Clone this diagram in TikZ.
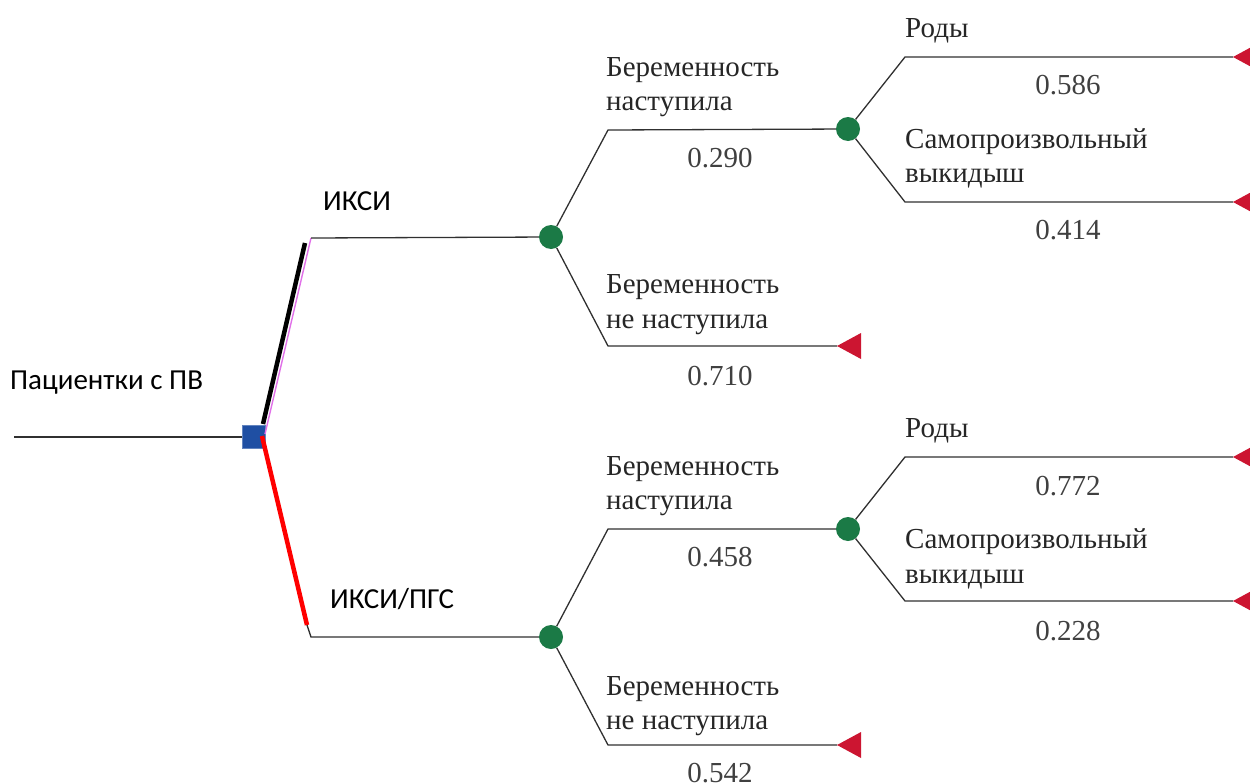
\documentclass[tikz,border=0pt]{standalone}
\usepackage{fontspec}
\setmainfont{Liberation Serif}
\newfontfamily\lblfont{Carlito}
\definecolor{chgreen}{HTML}{1B7A46}
\definecolor{decblue}{HTML}{1F4FA3}
\definecolor{termred}{HTML}{CC1531}
\definecolor{pinkline}{HTML}{E070E8}
\definecolor{linegray}{HTML}{303030}
\begin{document}
\begin{tikzpicture}[x=1pt,y=-1pt,
  branch/.style={draw=linegray, line width=1.3pt},
  chance/.style={circle, fill=chgreen, minimum size=24pt, inner sep=0pt},
  decision/.style={rectangle, fill=decblue, draw=decblue!70!white, line width=0.8pt, minimum size=23pt, inner sep=0pt},
  txt/.style={inner sep=0pt, anchor=mid west, font=\fontsize{29}{34}\selectfont, text=black!85},
  prob/.style={inner sep=0pt, anchor=mid, font=\fontsize{29}{34}\selectfont, text=black!75},
  lbl/.style={inner sep=0pt, anchor=mid west, font=\lblfont\fontsize{29}{33}\selectfont},
  term/.pic={\fill[termred] (0,0) -- (24,-13) -- (24,13) -- cycle;}]
\useasboundingbox (0,0) rectangle (1250,784);

% root and decision
\coordinate (root) at (14,437);
\node[decision] (d) at (254,437) {};
\draw[branch] (root) -- (d.west);
\node[lbl] (lroot) at (10,387) {Пациентки с ПВ};

% first-level chance nodes
\coordinate (ua) at (311,238);
\coordinate (la) at (311,637);
\coordinate (lr) at (307,625);
\node[chance] (c1) at (551,237) {};
\node[chance] (c2) at (551,637) {};

% upper strategy
\draw[pinkline, line width=1.4pt] (265,434) -- (ua);
\draw[black, line width=4.5pt] (263,424) -- (305,243);
\draw[branch] (ua) -- (c1);
\node[lbl] (l1) at (323,208) {ИКСИ};

% lower strategy
\draw[red, line width=4.5pt] (262,436) -- (lr);
\draw[branch] (lr) -- (la) -- (c2);
\node[lbl] (l2) at (330,606) {ИКСИ/ПГС};

% ---------- upper subtree ----------
\coordinate (u1) at (608,130);
\coordinate (u2) at (608,346);
\node[chance] (c3) at (848,129) {};
\coordinate (t1) at (837,346);
\draw[branch] (c1) -- (u1) -- (c3);
\draw[branch] (c1) -- (u2) -- (t1);
\pic at (t1) {term};
\node[txt] at (606,74) {Беременность};
\node[txt] at (606,108) {наступила};
\node[prob] at (720,165) {0.290};
\node[txt] at (606,291) {Беременность};
\node[txt] at (606,326) {не наступила};
\node[prob] at (720,383) {0.710};

\coordinate (u3) at (905,57);
\coordinate (u4) at (905,202);
\coordinate (t2) at (1233,57);
\coordinate (t3) at (1233,202);
\draw[branch] (c3) -- (u3) -- (t2);
\draw[branch] (c3) -- (u4) -- (t3);
\pic at (t2) {term};
\pic at (t3) {term};
\node[txt] at (905,35) {Роды};
\node[prob] at (1068,92) {0.586};
\node[txt] at (905,146) {Самопроизвольный};
\node[txt] at (905,180) {выкидыш};
\node[prob] at (1068,237) {0.414};

% ---------- lower subtree ----------
\coordinate (v1) at (608,529);
\coordinate (v2) at (608,745);
\node[chance] (c4) at (848,529) {};
\coordinate (t4) at (837,745);
\draw[branch] (c2) -- (v1) -- (c4);
\draw[branch] (c2) -- (v2) -- (t4);
\pic at (t4) {term};
\node[txt] at (606,473) {Беременность};
\node[txt] at (606,507) {наступила};
\node[prob] at (720,564) {0.458};
\node[txt] at (606,693) {Беременность};
\node[txt] at (606,727) {не наступила};
\node[prob] at (720,780) {0.542};

\coordinate (v3) at (905,457);
\coordinate (v4) at (905,601);
\coordinate (t5) at (1233,457);
\coordinate (t6) at (1233,601);
\draw[branch] (c4) -- (v3) -- (t5);
\draw[branch] (c4) -- (v4) -- (t6);
\pic at (t5) {term};
\pic at (t6) {term};
\node[txt] at (905,435) {Роды};
\node[prob] at (1068,493) {0.772};
\node[txt] at (905,546) {Самопроизвольный};
\node[txt] at (905,581) {выкидыш};
\node[prob] at (1068,638) {0.228};
\end{tikzpicture}
\end{document}
